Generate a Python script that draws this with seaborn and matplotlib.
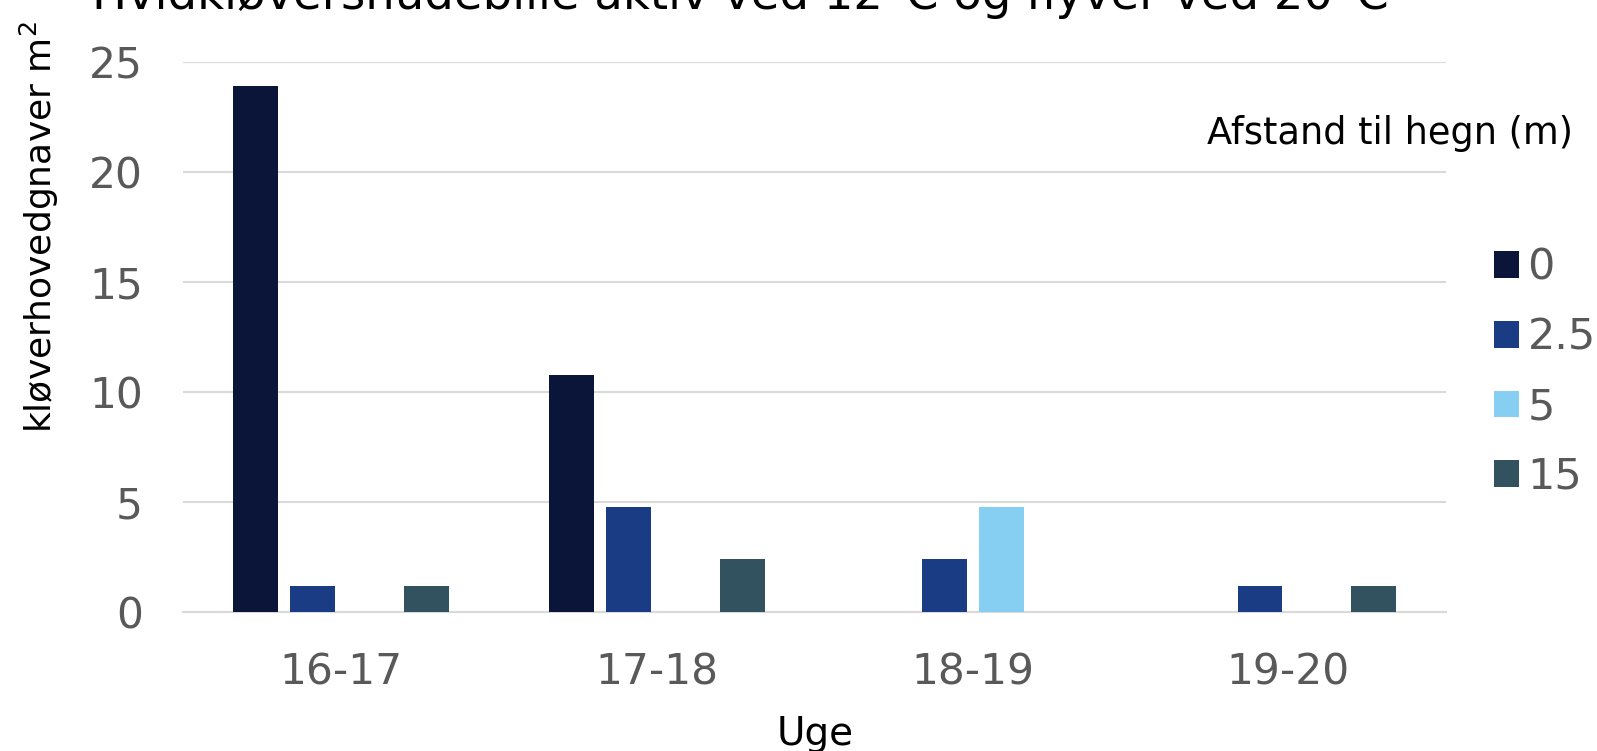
import matplotlib
matplotlib.use("Agg")
import matplotlib.pyplot as plt
from matplotlib.patches import Patch
import seaborn as sns
import pandas as pd

# Weeks and distances to the fence
uger = ["16-17", "17-18", "18-19", "19-20"]
afstande = ["0", "2.5", "5", "15"]

# Counts per m² for each distance, one value per week
afstand_0 = [23.9, 10.8, 0.0, 0.0]
afstand_2_5 = [1.2, 4.8, 2.4, 1.2]
afstand_5 = [0.0, 0.0, 4.8, 0.0]
afstand_15 = [1.2, 2.4, 0.0, 1.2]

farver = ["#0B1539", "#1A3C84", "#87CFF2", "#33525F"]

rows = []
for afst, vals in zip(afstande, [afstand_0, afstand_2_5, afstand_5, afstand_15]):
    for uge, v in zip(uger, vals):
        rows.append({"Uge": uge, "Afstand": afst, "Antal": v})
df = pd.DataFrame(rows)

sns.set_theme(style="white")
plt.rcParams["font.family"] = ["DejaVu Sans"]

W, H = 1597, 751
fig = plt.figure(figsize=(W / 100, H / 100), dpi=100)
ax = fig.add_axes([183.3 / W, 1 - 612.1 / H, 1263 / W, 550 / H])

sns.barplot(data=df, x="Uge", y="Antal", hue="Afstand", order=uger,
            hue_order=afstande, palette=farver, saturation=1, width=0.72,
            gap=0.21, linewidth=0, errorbar=None, legend=False, ax=ax, zorder=3)

ax.set_xlim(-0.5, 3.5)
ax.set_ylim(0, 25)
ax.set_yticks([0, 5, 10, 15, 20, 25])
ax.yaxis.grid(True, color="#D9D9D9", linewidth=1.5, zorder=0)
ax.set_axisbelow(True)
for s in ["top", "right", "left"]:
    ax.spines[s].set_visible(False)
ax.spines["bottom"].set_color("#D9D9D9")
ax.spines["bottom"].set_linewidth(1.5)
ax.tick_params(axis="both", length=0, labelsize=30.5, colors="#595959")
ax.tick_params(axis="x", pad=28.5)
ax.tick_params(axis="y", pad=29)

ax.set_xlabel("Uge", fontsize=28, color="black")
ax.xaxis.set_label_coords(0.5, -0.187)
ax.set_ylabel("kløverhovedgnaver m$^2$", fontsize=26, color="black")
ax.yaxis.set_label_coords(-0.0972, 0.701)

# Chart title, partly running off the top edge
fig.text(92 / W, 1 - 9 / H, "Hvidkløversnudebille aktiv ved 12°C og flyver ved 20°C",
         fontsize=33.5, color="black", ha="left", va="baseline")

fig.text(1573 / W, 1 - 133 / H, "Afstand til hegn (m)", fontsize=26.5,
         color="black", ha="right", va="center")

handles = [Patch(facecolor=c, edgecolor="none") for c in farver]
leg = fig.legend(handles, afstande, loc="upper left",
                 bbox_to_anchor=(1494 / W, 1 - 247 / H), frameon=False,
                 fontsize=31, handlelength=0.58, handleheight=0.58,
                 handletextpad=0.2, labelspacing=0.64, borderpad=0,
                 borderaxespad=0)
for t in leg.get_texts():
    t.set_color("#595959")

fig.savefig("out.png", dpi=100)
